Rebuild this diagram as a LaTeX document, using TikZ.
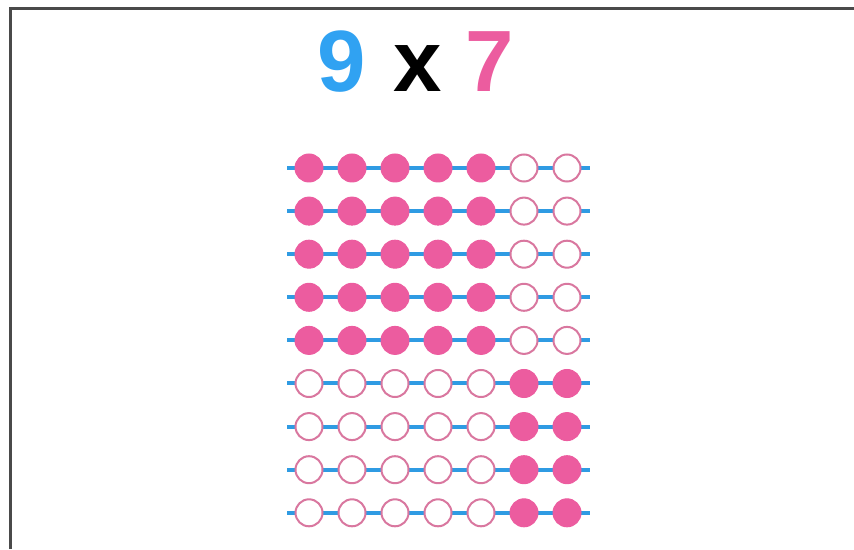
\documentclass[tikz,border=0pt]{standalone}
\usepackage{fontspec}
\setmainfont{Liberation Sans}
\usetikzlibrary{positioning}
\definecolor{beadpink}{HTML}{EC5C9F}
\definecolor{ringpink}{HTML}{D9779F}
\definecolor{wireblue}{HTML}{2F9BE3}
\definecolor{ninecol}{HTML}{30A2F2}
\definecolor{framegray}{HTML}{4A4A4A}

\begin{document}
\begin{tikzpicture}[
        x=1pt, y=1pt,
        wire/.style={wireblue, line width=4pt},
        full/.style={circle, fill=beadpink, draw=beadpink, line width=1pt,
                     minimum size=28pt, inner sep=0pt},
        empty/.style={circle, fill=white, draw=ringpink, line width=2pt,
                      minimum size=27pt, inner sep=0pt},
        bead1/.style={full},
        bead0/.style={empty}
      ]
        \useasboundingbox (0,0) rectangle (854,549);
        \draw[framegray, line width=3pt] (10.5,0) -- (10.5,540) -- (854,540);
        \node[anchor=base, font=\fontsize{87}{87}\bfseries\selectfont] (title)
          at (416,457) {\textcolor{ninecol}{9}\hspace{3pt} x \textcolor{beadpink}{7}};
        \foreach \r in {1,...,9} {
          \coordinate (wl\r) at (287, 424.1-43.1*\r);
          \coordinate (wr\r) at (590, 424.1-43.1*\r);
          \draw[wire] (wl\r) -- (wr\r);
          \foreach \c in {1,...,7} {
            \pgfmathtruncatemacro\st{(\r<6)==(\c<6)}
            \node[bead\st] (b\r-\c) at (266+43*\c, 424.1-43.1*\r) {};
          }
        }
      \end{tikzpicture}
\end{document}
